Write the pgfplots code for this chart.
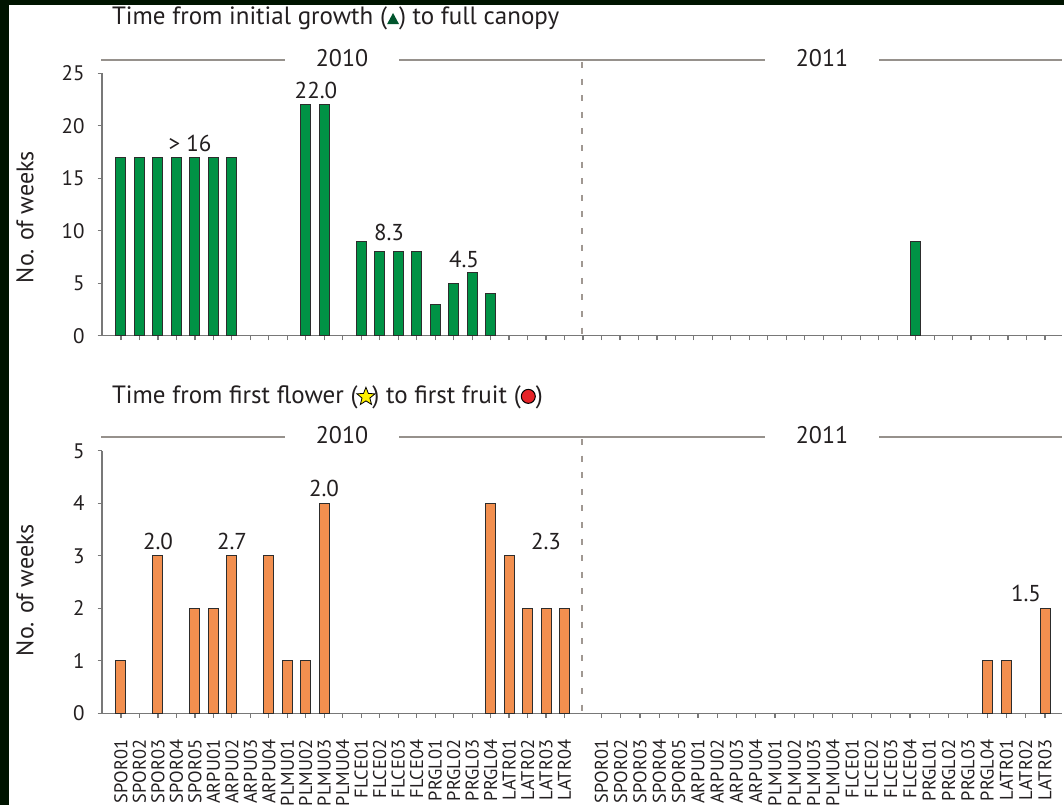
\documentclass[border=0pt]{standalone}
\usepackage{pgfplots}
\pgfplotsset{compat=1.18}
\usetikzlibrary{shapes.geometric}
\usepackage{fontspec}
\setmainfont{PT Sans}

\definecolor{frame}{RGB}{0,20,0}
\definecolor{txt}{RGB}{35,31,32}
\definecolor{axgray}{RGB}{120,120,120}
\definecolor{hdr}{RGB}{150,145,140}
\definecolor{dashc}{RGB}{160,152,146}
\definecolor{barg}{RGB}{0,146,69}
\definecolor{baro}{RGB}{242,143,79}
\definecolor{edge}{RGB}{45,45,45}
\definecolor{tri}{RGB}{0,85,45}
\definecolor{fruit}{RGB}{230,35,40}
\definecolor{flower}{RGB}{255,240,0}

\pgfplotsset{
  panel/.style={
    scale only axis, width=480pt, height=131.25pt, anchor=south west,
    xmin=-1.028, xmax=50.92, ymin=0,
    axis x line*=bottom, axis y line*=left,
    axis line style={axgray, line width=0.6pt, -},
    tick align=outside, major tick length=2.2pt,
    tick style={axgray, line width=0.6pt},
    yticklabel style={font=\fontsize{10.5}{12}\selectfont, text=txt, xshift=-3pt},
    /pgf/number format/assume math mode=true,
    ybar, bar width=5pt, clip=false,
  },
}

% little symbols used in the panel titles
\newcommand{\growth}{\tikz[baseline=0pt]\fill[tri] (0pt,0pt) -- (6pt,0pt) -- (3pt,5.6pt) -- cycle;}
\newcommand{\flower}{\tikz[baseline=-3.2pt]\node[star, star points=5, star point ratio=2.3,
  fill=flower, draw=black, line width=0.4pt, minimum size=9.5pt, inner sep=0pt] {};}
\newcommand{\fruit}{\tikz[baseline=0pt]\draw[fill=fruit, draw=black, line width=0.5pt] (0pt,3.4pt) circle (3.5pt);}

\begin{document}
\begin{tikzpicture}[x=0.5pt, y=-0.5pt, every node/.style={text=txt}]
\path[use as bounding box] (0,0) rectangle (1064,805);
\fill[frame] (0,0) rectangle (1064,805);
\fill[white] (9,5) rectangle (1064,805);

% top panel: weeks from initial growth to full canopy
\begin{axis}[panel, at={(51pt,-167.85pt)},
  ymax=25, ytick={0,5,...,25},
  xtick={0,...,50}, xticklabels={}]
\addplot[draw=edge, line width=0.5pt, fill=barg] coordinates {
  (0,17) (1,17) (2,17) (3,17) (4,17) (5,17) (6,17)
  (10,22) (11,22)
  (13,9) (14,8) (15,8) (16,8)
  (17,3) (18,5) (19,6) (20,4)
  (43,9)
};
\end{axis}

% bottom panel: weeks from first flower to first fruit
\begin{axis}[panel, at={(51pt,-356.65pt)},
  ymax=5, ytick={0,...,5},
  xtick={0,1,2,3,4,5,6,7,8,9,10,11,12,13,14,15,16,17,18,19,20,21,22,23,24,
    26,27.0435,28.0870,29.1304,30.1739,31.2174,32.2609,33.3043,34.3478,35.3913,
    36.4348,37.4783,38.5217,39.5652,40.6087,41.6522,42.6957,43.7391,44.7826,
    45.8261,46.8696,47.9130,48.9565,50},
  xticklabels={SPOR01,SPOR02,SPOR03,SPOR04,SPOR05,ARPU01,ARPU02,ARPU03,ARPU04,
    PLMU01,PLMU02,PLMU03,PLMU04,FLCE01,FLCE02,FLCE03,FLCE04,
    PRGL01,PRGL02,PRGL03,PRGL04,LATR01,LATR02,LATR03,LATR04,
    SPOR01,SPOR02,SPOR03,SPOR04,SPOR05,ARPU01,ARPU02,ARPU03,ARPU04,
    PLMU01,PLMU02,PLMU03,PLMU04,FLCE01,FLCE02,FLCE03,FLCE04,
    PRGL01,PRGL02,PRGL03,PRGL04,LATR01,LATR02,LATR03},
  xticklabel style={font=\fontsize{9.2}{10}\selectfont, text=txt,
    rotate=90, anchor=east, xshift=-7.5pt}]
\addplot[draw=edge, line width=0.5pt, fill=baro] coordinates {
  (0,1) (2,3) (4,2) (5,2) (6,3) (8,3) (9,1) (10,1) (11,4)
  (20,4) (21,3) (22,2) (23,2) (24,2)
  (46.8696,1) (47.9130,1) (50,2)
};
\end{axis}

% year headers and separators
\begin{scope}[hdr, line width=0.7pt]
\draw (101,60) -- (285,60) (399,60) -- (765,60) (879,60) -- (1062,60);
\draw (101,437) -- (285,437) (399,437) -- (765,437) (879,437) -- (1062,437);
\end{scope}
\begin{scope}[dashc, line width=1.2pt, dash pattern=on 3pt off 5.3pt]
\draw (582,62) -- (582,336);
\draw (582,439) -- (582,713);
\end{scope}
\begin{scope}[every node/.append style={font=\fontsize{12}{14}\selectfont}]
\node at (342,58) {2010};
\node at (822,58) {2011};
\node at (342,435) {2010};
\node at (822,435) {2011};
\end{scope}

% titles
\node[anchor=west, font=\fontsize{12.5}{14}\selectfont] at (105,18)
  {Time from initial growth (\growth) to full canopy};
\node[anchor=west, font=\fontsize{12.5}{14}\selectfont] at (105,397)
  {Time from first flower (\kern-0.5pt\flower\kern-1.5pt) to first fruit (\fruit)};

% axis titles
\node[rotate=90, font=\fontsize{12}{14}\selectfont] at (25,217) {No. of weeks};
\node[rotate=90, font=\fontsize{12}{14}\selectfont] at (25,590) {No. of weeks};

% value labels
\begin{scope}[every node/.append style={font=\fontsize{11.5}{13}\selectfont}]
\node at (190,143) {> 16};
\node at (316,90) {22.0};
\node at (389,232) {8.3};
\node at (464,259) {4.5};
\node at (158,541) {2.0};
\node at (232,541) {2.7};
\node at (324,488) {2.0};
\node at (546,541) {2.3};
\node at (1026,593) {1.5};
\end{scope}
\end{tikzpicture}
\end{document}
